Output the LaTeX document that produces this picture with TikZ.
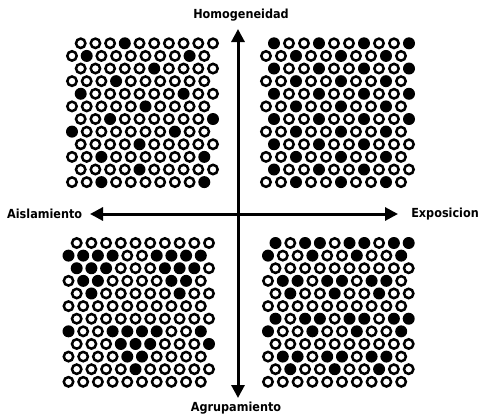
\documentclass[tikz,border=0pt]{standalone}
\usepackage{fontspec}
\setmainfont{DejaVu Sans Condensed}
\usetikzlibrary{arrows.meta}
\tikzset{
  ring/.style={draw=black, line width=2.5pt, fill=white},
  dot/.style={fill=black},
  axis/.style={line width=3pt, -{Triangle[length=13pt,width=13pt]}},
  lbl/.style={font=\bfseries\fontsize{12.5}{14}\selectfont, inner sep=0pt}
}
\makeatletter
\newcount\colidx
% #1 x of first circle, #2 y, #3 step, #4 string of 0/1
\newcommand\dotrow[4]{%
  \colidx=0
  \@tfor\ch:=#4\do{%
    \ifnum\ch=1\relax
      \path[dot] ({#1+\the\colidx*#3},#2) circle (6pt);%
    \else
      \path[ring] ({#1+\the\colidx*#3},#2) circle (4.7pt);%
    \fi
    \advance\colidx by 1\relax
  }%
}
\makeatother
% #1 odd-row start x, #2 even-row start x, #3 first-row y, #4 step, #5 rows
\newcommand\dotgrid[5]{%
  \foreach \s [count=\r] in {#5}{%
    \pgfmathsetmacro\rx{isodd(\r) ? #1 : #2}%
    \pgfmathsetmacro\ry{#3+(\r-1)*12.62}%
    \edef\next{\noexpand\dotrow{\rx}{\ry}{#4}{\s}}\next
  }%
}
\begin{document}
\begin{tikzpicture}[x=1pt,y=-1pt]
\useasboundingbox (0,0) rectangle (480,416);
% top-left
\dotgrid{80.7}{72}{43.3}{14.7}{0001000000,0100000010,0000010000,0001000000,1000000100,0000010000,0010000001,1000000100,0000100000,0010000001,0000100000,0010000001}
% top-right
\dotgrid{274}{266}{43.3}{15}{1001001001,0010010010,1001001001,0010010010,1001001001,0010010010,1001001001,0010010010,1001001000,0010010010,1001001000,0010010010}
% bottom-left
\dotgrid{76.7}{68.5}{243}{14.7}{0000000000,1111001111,1110001110,0110000110,0100000100,0000000000,0000000000,1001111001,0001110001,0000110000,0000100000,0000000000}
% bottom-right
\dotgrid{275.5}{268}{243}{14.8}{1011011011,1001001001,0000000000,0110110110,0100100100,0000000000,1011011011,1001001001,0000000000,0110110110,0100100100,0000000000}
% axes
\coordinate (c) at (238,214);
\coordinate (top) at (238,29);
\coordinate (bot) at (238,398);
\coordinate (lft) at (90,214);
\coordinate (rgt) at (398,214);
\draw[axis] (c) -- (top);
\draw[axis] (c) -- (bot);
\draw[axis] (c) -- (lft);
\draw[axis] (c) -- (rgt);
% labels
\node[lbl] (hom) at (241,15) {Homogeneidad};
\node[lbl, anchor=west] (ais) at (7,214) {Aislamiento};
\node[lbl, anchor=east] (exp) at (479,214) {Exposicion};
\node[lbl] (agr) at (236,408) {Agrupamiento};
\end{tikzpicture}
\end{document}
